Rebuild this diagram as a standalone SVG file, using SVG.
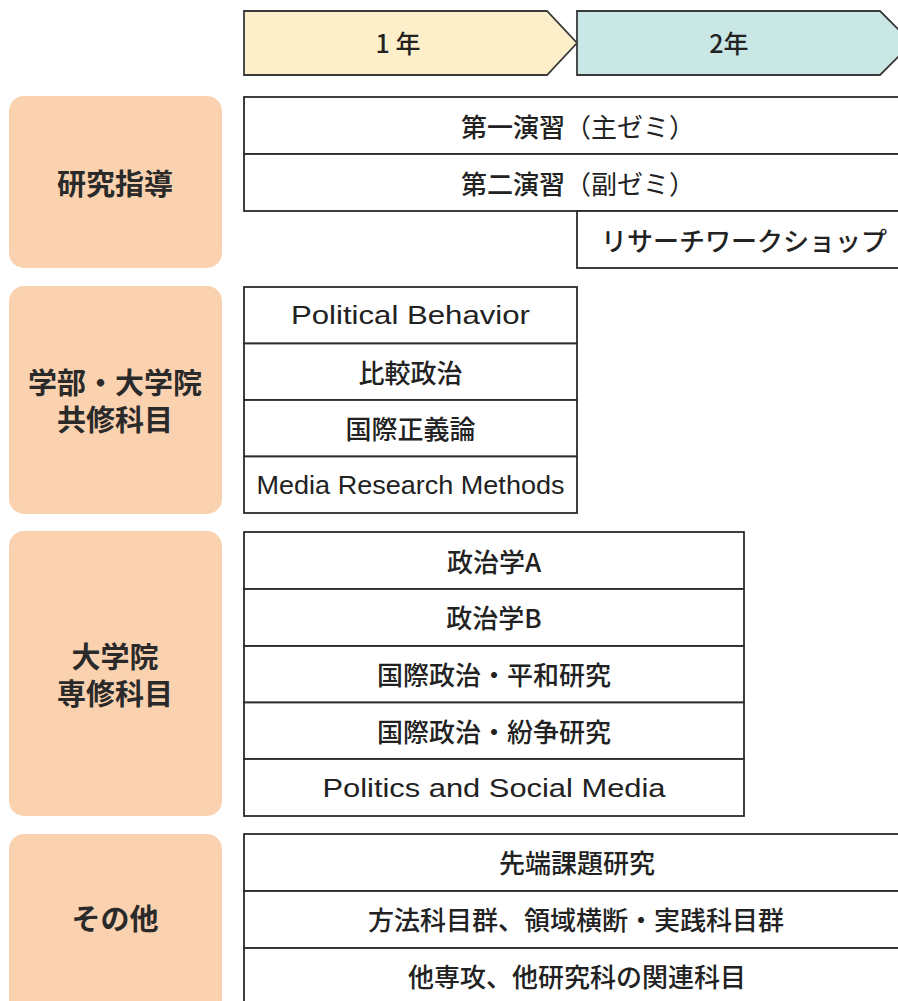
<svg xmlns="http://www.w3.org/2000/svg" width="898" height="1001" viewBox="0 0 898 1001">
<style>
.cat{fill:#FBD2B0;}
.cell{fill:#fff;stroke:#2b2b2b;stroke-width:1.8;}
.hdr{stroke:#3a3a3a;stroke-width:1.8;}
.ct{font-family:"Noto Sans CJK JP","Noto Sans CJK SC",sans-serif;font-weight:700;font-size:29px;fill:#2a2a2a;text-anchor:middle;dominant-baseline:central;}
.t{font-family:"Noto Sans CJK JP","Noto Sans CJK SC",sans-serif;font-weight:500;font-size:26px;fill:#222;text-anchor:middle;dominant-baseline:central;}
.tn{font-weight:400;}
.e{font-family:"Liberation Sans","Noto Sans",sans-serif;font-size:25.5px;fill:#222;text-anchor:middle;dominant-baseline:central;}
.h{font-family:"Noto Sans CJK JP","Noto Sans CJK SC",sans-serif;font-weight:500;font-size:25px;fill:#222;text-anchor:middle;dominant-baseline:central;}
</style>
<rect width="898" height="1001" fill="#fff"/>
<g id="header-year1">
<polygon class="hdr" points="244,11 547,11 577,43 547,75 244,75" fill="#FDEFC9"/>
<text class="h" x="398" y="42">1 年</text>
</g>
<g id="header-year2">
<polygon class="hdr" points="577,11 880,11 912,43 880,75 577,75" fill="#C9E8E5"/>
<text class="h" x="729" y="42">2年</text>
</g>
<g id="cat-research">
<rect class="cat" x="9" y="96" width="213" height="172" rx="15"/>
<text class="ct" x="115" y="182">研究指導</text>
</g>
<g id="cat-joint">
<rect class="cat" x="9" y="286" width="213" height="228" rx="15"/>
<text class="ct" x="115" y="381">学部・大学院</text>
<text class="ct" x="115" y="418">共修科目</text>
</g>
<g id="cat-grad">
<rect class="cat" x="9" y="531" width="213" height="285" rx="15"/>
<text class="ct" x="115" y="655">大学院</text>
<text class="ct" x="115" y="692">専修科目</text>
</g>
<g id="cat-other">
<rect class="cat" x="9" y="834" width="213" height="190" rx="15"/>
<text class="ct" x="115" y="917">その他</text>
</g>
<g id="r-seminar1">
<rect class="cell" x="244" y="97" width="670" height="57"/>
<text class="t" x="578" y="125">第一演習<tspan class="tn">（主ゼミ）</tspan></text>
</g>
<g id="r-seminar2">
<rect class="cell" x="244" y="154" width="670" height="57"/>
<text class="t" x="578" y="182">第二演習<tspan class="tn">（副ゼミ）</tspan></text>
</g>
<g id="r-workshop">
<rect class="cell" x="577" y="211" width="337" height="57"/>
<text class="t" x="744" y="239">リサーチワークショップ</text>
</g>
<g id="r-polbeh">
<rect class="cell" x="244" y="287" width="333" height="56.5"/>
<text class="e" x="410.5" y="315" textLength="239" lengthAdjust="spacingAndGlyphs">Political Behavior</text>
</g>
<g id="r-comp">
<rect class="cell" x="244" y="343.5" width="333" height="56.5"/>
<text class="t" x="410.5" y="371">比較政治</text>
</g>
<g id="r-justice">
<rect class="cell" x="244" y="400" width="333" height="56.5"/>
<text class="t" x="410.5" y="427">国際正義論</text>
</g>
<g id="r-media">
<rect class="cell" x="244" y="456.5" width="333" height="56.5"/>
<text class="e" x="410.5" y="485" textLength="308" lengthAdjust="spacingAndGlyphs">Media Research Methods</text>
</g>
<g id="r-polA">
<rect class="cell" x="244" y="532" width="500" height="57"/>
<text class="t" x="494" y="560">政治学A</text>
</g>
<g id="r-polB">
<rect class="cell" x="244" y="589" width="500" height="57"/>
<text class="t" x="494" y="616">政治学B</text>
</g>
<g id="r-peace">
<rect class="cell" x="244" y="646" width="500" height="56.5"/>
<text class="t" x="494" y="673">国際政治・平和研究</text>
</g>
<g id="r-conflict">
<rect class="cell" x="244" y="702.5" width="500" height="56.5"/>
<text class="t" x="494" y="730">国際政治・紛争研究</text>
</g>
<g id="r-social">
<rect class="cell" x="244" y="759" width="500" height="57"/>
<text class="e" x="494" y="788" textLength="343" lengthAdjust="spacingAndGlyphs">Politics and Social Media</text>
</g>
<g id="r-advanced">
<rect class="cell" x="244" y="834" width="670" height="57"/>
<text class="t" x="577" y="861">先端課題研究</text>
</g>
<g id="r-method">
<rect class="cell" x="244" y="891" width="670" height="57"/>
<text class="t" x="576" y="918">方法科目群、領域横断・実践科目群</text>
</g>
<g id="r-otherdept">
<rect class="cell" x="244" y="948" width="670" height="70"/>
<text class="t" x="577" y="975">他専攻、他研究科の関連科目</text>
</g>
<g id="connectors"></g>
</svg>
